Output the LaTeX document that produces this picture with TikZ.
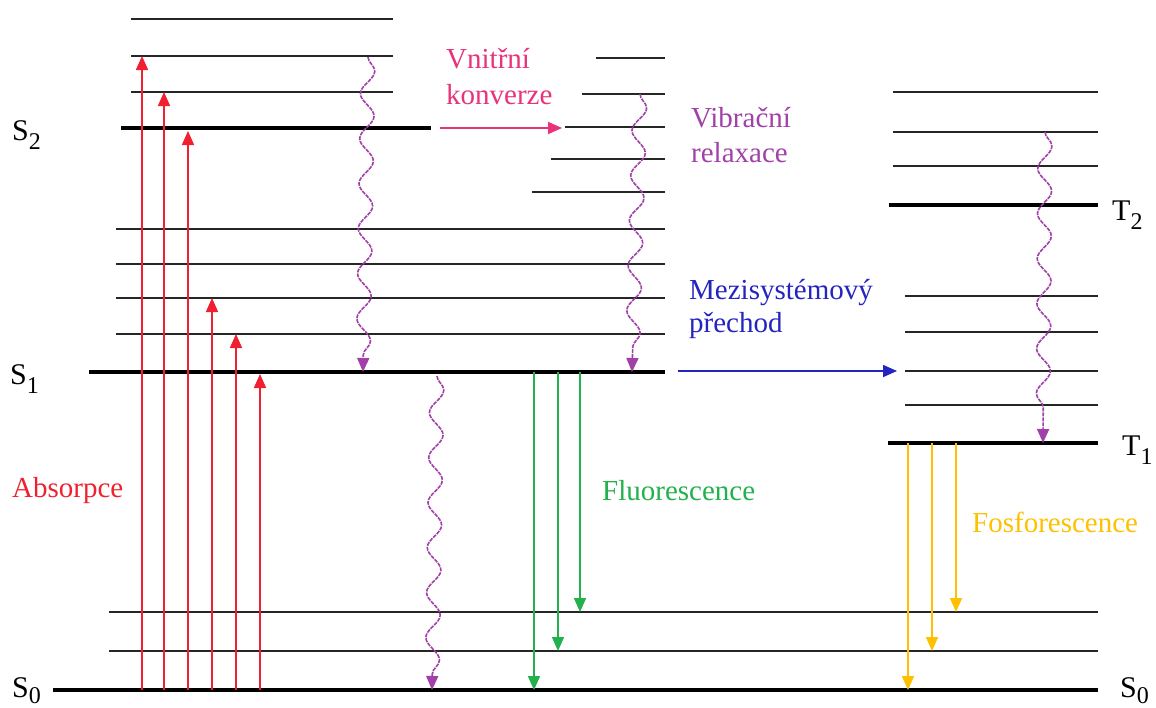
\documentclass[tikz,border=0pt]{standalone}
\usepackage{fontspec}
\setmainfont{Liberation Serif}
\newfontfamily\lserif{Liberation Serif}
\usetikzlibrary{arrows.meta,decorations.pathmorphing}
\definecolor{absred}{HTML}{F02030}
\definecolor{icpink}{HTML}{E8337A}
\definecolor{vrpurple}{HTML}{A040A8}
\definecolor{iscblue}{HTML}{2424C0}
\definecolor{flgreen}{HTML}{22B14C}
\definecolor{phyellow}{HTML}{FFC000}
\tikzset{
  lvl/.style={line width=1.8pt,black!85},
  main/.style={line width=3.6pt,black},
  tip/.style={-{Triangle[width=12pt,length=14pt]}},
  absarrow/.style={tip,absred,line width=1.6pt},
  flarrow/.style={tip,flgreen,line width=1.6pt},
  pharrow/.style={tip,phyellow,line width=1.6pt},
  wavy/.style={tip,vrpurple,line width=1.6pt,dash pattern=on 4pt off 1pt,
    decorate,decoration={snake,amplitude=7pt,segment length=45pt,post length=14pt}},
  lbl/.style={anchor=base west,inner sep=0pt,font=\lserif\fontsize{29}{34}\selectfont},
  st/.style={anchor=base west,inner sep=0pt,font=\lserif\fontsize{30}{34}\selectfont},
}
\newcommand{\sub}[1]{\raisebox{-9pt}{\fontsize{24}{24}\selectfont #1}}
\newcommand{\subb}[1]{\raisebox{-6pt}{\fontsize{24}{24}\selectfont #1}}
\begin{document}
\begin{tikzpicture}[x=1pt,y=-1pt]
\useasboundingbox (0,0) rectangle (1156,707);
% S2 group
\draw[lvl] (131,19) -- (393,19);
\draw[lvl] (131,56) -- (393,56);
\draw[lvl] (131,92) -- (393,92);
\draw[main] (121,128) -- (431,128);
% S1 high vibrational (right column)
\draw[lvl] (596,58) -- (665,58);
\draw[lvl] (582,94) -- (665,94);
\draw[lvl] (565,127) -- (665,127);
\draw[lvl] (551,159) -- (665,159);
\draw[lvl] (532,192) -- (665,192);
% S1 group
\draw[lvl] (116,229) -- (665,229);
\draw[lvl] (116,264) -- (665,264);
\draw[lvl] (116,298) -- (665,298);
\draw[lvl] (116,334) -- (665,334);
\draw[main] (89,372) -- (665,372);
% T group
\draw[lvl] (893,92) -- (1098,92);
\draw[lvl] (893,132) -- (1098,132);
\draw[lvl] (893,166) -- (1098,166);
\draw[main] (889,205) -- (1098,205);
\draw[lvl] (905,296) -- (1098,296);
\draw[lvl] (905,332) -- (1098,332);
\draw[lvl] (905,371) -- (1098,371);
\draw[lvl] (905,405) -- (1098,405);
\draw[main] (888,443) -- (1098,443);
% S0 group
\draw[lvl] (109,612) -- (1098,612);
\draw[lvl] (109,651) -- (1098,651);
\draw[main] (53,690) -- (1098,690);

% state labels
\node[st] (s2) at (12,140) {S\sub{2}};
\node[st] (s1) at (10,384) {S\sub{1}};
\node[st] (s0l) at (12,697) {S\subb{0}};
\node[st] (t2) at (1112,220) {T\sub{2}};
\node[st] (t1) at (1122,455) {T\sub{1}};
\node[st] (s0r) at (1120,697) {S\subb{0}};

% absorption
\foreach \n/\x/\y in {1/142/56,2/164/92,3/188/131,4/212/298,5/236/334,6/260/374}{
  \coordinate (a\n s) at (\x,690);
  \coordinate (a\n e) at (\x,\y);
  \draw[absarrow] (a\n s) -- (a\n e);
}
% fluorescence
\foreach \n/\x/\y in {1/534/690,2/558/651,3/580/612}{
  \coordinate (f\n s) at (\x,372);
  \coordinate (f\n e) at (\x,\y);
  \draw[flarrow] (f\n s) -- (f\n e);
}
% phosphorescence
\foreach \n/\x/\y in {1/908/690,2/932/651,3/956/612}{
  \coordinate (p\n s) at (\x,443);
  \coordinate (p\n e) at (\x,\y);
  \draw[pharrow] (p\n s) -- (p\n e);
}
% vibrational relaxation / internal conversion wavy arrows
\coordinate (w1s) at (368,57);   \coordinate (w1e) at (363,372);
\coordinate (w2s) at (640,94);   \coordinate (w2e) at (632,372);
\coordinate (w3s) at (1045,132); \coordinate (w3e) at (1043,443);
\coordinate (w4s) at (437,376);  \coordinate (w4e) at (432,690);
\draw[wavy] (w1s) -- (w1e);
\draw[wavy] (w2s) -- (w2e);
\draw[wavy] (w3s) -- (w3e);
\draw[wavy] (w4s) -- (w4e);

% internal conversion
\coordinate (ics) at (440,128); \coordinate (ice) at (562,128);
\draw[tip,icpink,line width=1.6pt] (ics) -- (ice);
\node[lbl,text=icpink] (ic1) at (446,68) {Vnitřní};
\node[lbl,text=icpink] (ic2) at (446,104) {konverze};
% vibrational relaxation label
\node[lbl,text=vrpurple] (vr1) at (691,127) {Vibrační};
\node[lbl,text=vrpurple] (vr2) at (691,162) {relaxace};
% intersystem crossing
\coordinate (iscs) at (678,371); \coordinate (isce) at (897,371);
\draw[tip,iscblue,line width=1.6pt] (iscs) -- (isce);
\node[lbl,text=iscblue] (isc1) at (689,299) {Mezisystémový};
\node[lbl,text=iscblue] (isc2) at (689,332) {přechod};
% process labels
\node[lbl,text=absred] (abs) at (12,497) {Absorpce};
\node[lbl,text=flgreen] (fl) at (602,500) {Fluorescence};
\node[lbl,text=phyellow] (ph) at (972,532) {Fosforescence};
\end{tikzpicture}
\end{document}
